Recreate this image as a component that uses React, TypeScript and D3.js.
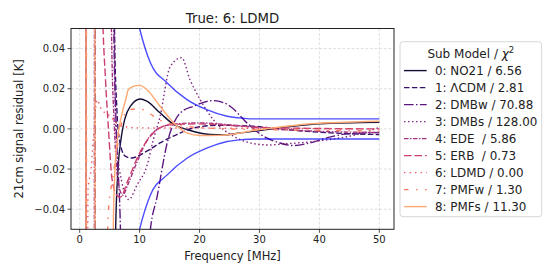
import React from "react";
import * as d3 from "d3";

// ---------- data ----------
const MODEL_NAMES = [
  "0: NO21 / 6.56",
  "1: \u039BCDM / 2.81",
  "2: DMBw / 70.88",
  "3: DMBs / 128.00",
  "4: EDE  / 5.86",
  "5: ERB  / 0.73",
  "6: LDMD / 0.00",
  "7: PMFw / 1.30",
  "8: PMFs / 11.30",
];

const NO21: [number, number][] = [
  [1.0, 1], [1.3, -1], [5.6, -0.3], [6.0, -0.05], [6.4, -0.02], [6.9, -0.005], [7.5, 0.0046],
  [8.5, 0.0115], [10.1, 0.0149], [11.2, 0.0138], [13.4, 0.008], [15.7, 0.0022],
  [17.9, -0.0003], [21.8, -0.0028], [24, -0.003], [26.8, -0.002], [33.4, 0.0005],
  [40.1, 0.0026], [50, 0.0033],
];
const LCDM: [number, number][] = [
  [1.0, -1], [1.3, 1], [5.0, 0.6], [5.8, 0.05], [6.2, 0.01], [6.6, -0.005], [7.6, -0.0136],
  [8.6, -0.0145], [11.2, -0.0111], [13.4, -0.007], [16.2, -0.0028], [19, 0.0005],
  [23, 0.0018], [28, 0.0015], [35, -0.0005], [42, -0.002], [50, -0.0028],
];
const DMBW: [number, number][] = [
  [1.0, 1], [1.2, -1], [2.5, -1], [2.7, 1], [5.4, 0.6], [5.7, 0.05], [6.1, 0.0],
  [6.8, -0.05], [7.6, -0.2], [10, -0.2], [11.2, -0.07], [11.8, -0.05], [12.9, -0.034],
  [14.6, -0.007], [16.8, 0.008], [19, 0.0113], [22.3, 0.0141], [25.1, 0.0113],
  [27.9, 0.003], [30.7, -0.0037], [33.4, -0.007], [35.7, -0.0083], [38.4, -0.007],
  [41.2, -0.0045], [44.6, -0.0025], [50, -0.0018],
];
const DMBS: [number, number][] = [
  [1.0, -1], [1.3, 1], [5.3, 0.3], [5.8, 0.05], [6.0, 0.0], [6.3, -0.012], [7.0, -0.026],
  [8.2, -0.0352], [9.6, -0.0277], [11.2, -0.0186], [12.3, -0.0053], [13.4, 0.006],
  [15.1, 0.031], [17.0, 0.0355], [18.4, 0.0246], [20.1, 0.0146], [22.3, 0.0046],
  [25.7, -0.0037], [29, -0.0073], [31.5, -0.008], [34, -0.0075], [41.7, -0.0053],
  [47.3, -0.002], [50, 0.0008],
];
const EDE: [number, number][] = [
  [1.0, 1], [1.3, -1], [2.3, -1], [2.6, 1], [4.8, 0.5], [5.3, 0.05], [5.8, 0.0],
  [6.5, -0.028], [7.2, -0.033], [8, -0.028], [9.5, -0.017], [11, -0.007], [13, 0.0],
  [16, 0.0025], [20, 0.003], [25, 0.002], [32, 0.0], [40, -0.0012], [50, -0.0018],
];
const ERB: [number, number][] = [
  [1.0, -1], [1.3, 1], [3.8, 0.06], [4.3, 0.025], [4.8, 0.0], [5.4, -0.025],
  [6.2, -0.033], [6.8, -0.034], [8, -0.026], [10, -0.012], [12.3, -0.002],
  [15, 0.002], [20, 0.0025], [30, 0.0008], [40, 0.0002], [50, 0.0],
];
const LDMD: [number, number][] = [
  [1.0, -1], [1.4, -0.03], [1.9, -0.02], [2.4, 0.0], [2.9, 0.0145], [3.5, 0.0105],
  [5.1, 0.0063], [6.8, 0.0016], [10, 0.0005], [20, 0.0004], [35, 0.0002], [50, 0.0],
];
const PMFW: [number, number][] = [
  [1.0, 1], [1.4, -1], [4.3, -0.1], [4.8, -0.04], [5.5, -0.025], [6.5, -0.005],
  [7.3, 0.006], [8.4, 0.0096], [10, 0.01], [11.5, 0.008], [13, 0.005], [17, 0.0015],
  [25, 0.0], [35, -0.0005], [50, -0.001],
];
const PMFS: [number, number][] = [
  [1.0, -1], [1.15, 1], [2.45, 1], [2.65, -1], [5.3, -0.3], [5.6, -0.05], [5.9, -0.019],
  [6.3, -0.0053], [6.8, 0.004], [7.3, 0.0104], [7.8, 0.016], [8.1, 0.0195], [9.2, 0.0214],
  [10, 0.0217], [11.2, 0.0196], [13.4, 0.0113], [15.7, 0.003], [17.9, -0.002],
  [20.1, -0.0033], [23.4, -0.0032], [30.1, -0.0003], [36.8, 0.0021], [50, 0.0038],
];
const MODEL_SERIES = [NO21, LCDM, DMBW, DMBS, EDE, ERB, LDMD, PMFW, PMFS];

const NOISE_UPPER: [number, number][] = [
  [1, 0.8], [5, 0.2], [8, 0.08], [10, 0.05], [11.8, 0.0329], [14.6, 0.0229],
  [17.9, 0.0146], [21.2, 0.0096], [24.6, 0.0063], [27.3, 0.0053], [29, 0.005], [50, 0.005],
];
const NOISE_LOWER: [number, number][] = [
  [1, -0.8], [5, -0.2], [8, -0.08], [10, -0.05], [11.8, -0.0329], [14.6, -0.0229],
  [17.9, -0.0146], [21.2, -0.0096], [24.6, -0.0063], [27.3, -0.0053], [29, -0.005], [50, -0.005],
];

const X_TICKS = [0, 10, 20, 30, 40, 50];
const Y_TICKS = [-0.04, -0.02, 0, 0.02, 0.04];
const TITLE = "True: 6: LDMD";
const X_LABEL = "Frequency [MHz]";
const Y_LABEL = "21cm signal residual [K]";

// ---------- styling ----------
const DASHES = [
  "none",
  "5.5,2.4",
  "9.6,2.4,1.5,2.4",
  "1.5,2.5",
  "4.5,1.5,1.5,1.5",
  "7.5,3",
  "1.4,4.1",
  "4.5,7.5,1.5,7.5",
  "none",
];

const W = 556;
const H = 278;
const PL = 71, PR = 394, PT = 28.5, PB = 229.3;
const FONT = "DejaVu Sans, sans-serif";

export default function App() {
  const x = d3.scaleLinear().domain([-1.45, 52.45]).range([PL, PR]);
  const y = d3.scaleLinear().domain([-0.05, 0.05]).range([PB, PT]);
  const line = d3
    .line<[number, number]>()
    .x((d) => x(d[0]))
    .y((d) => y(d[1]))
    .curve(d3.curveMonotoneX);
  const colors = MODEL_SERIES.map((_, i) => d3.interpolateMagma(0.1 + i * 0.09));

  const legX = 400, legY = 41.7, legW = 141.7, legH = 175;
  const entryY0 = 70.6, entryDy = 17.0;

  return (
    <div style={{ position: "absolute", left: 0, top: 0 }}>
      <svg width={W} height={H} style={{ display: "block", background: "#fff" }} fontFamily={FONT}>
        <defs>
          <clipPath id="plotclip">
            <rect x={PL} y={PT} width={PR - PL} height={PB - PT} />
          </clipPath>
        </defs>
        {/* grid */}
        <g stroke="#d6d6d6" strokeWidth={0.8} strokeDasharray="2.8,1.8">
          {X_TICKS.map((t) => (
            <line key={"gx" + t} x1={x(t)} x2={x(t)} y1={PT} y2={PB} />
          ))}
          {Y_TICKS.map((t) => (
            <line key={"gy" + t} x1={PL} x2={PR} y1={y(t)} y2={y(t)} />
          ))}
        </g>
        {/* curves */}
        <g clipPath="url(#plotclip)" fill="none">
          {MODEL_SERIES.map((s, i) => (
            <path
              key={"m" + i}
              d={line(s) || ""}
              stroke={colors[i]}
              strokeWidth={1.4}
              strokeDasharray={DASHES[i]}
            />
          ))}
          <path d={line(NOISE_UPPER) || ""} stroke="rgba(0,0,255,0.7)" strokeWidth={1.4} />
          <path d={line(NOISE_LOWER) || ""} stroke="rgba(0,0,255,0.7)" strokeWidth={1.4} />
        </g>
        {/* axes frame */}
        <rect x={PL} y={PT} width={PR - PL} height={PB - PT} fill="none" stroke="#222" strokeWidth={1} />
        {/* x ticks */}
        {X_TICKS.map((t) => (
          <g key={"xt" + t}>
            <line x1={x(t)} x2={x(t)} y1={PB} y2={PB + 3.5} stroke="#222" strokeWidth={0.8} />
            <text x={x(t)} y={PB + 14} fontSize={10} textAnchor="middle" fill="#222">
              {String(t)}
            </text>
          </g>
        ))}
        {/* y ticks */}
        {Y_TICKS.map((t) => (
          <g key={"yt" + t}>
            <line x1={PL - 3.5} x2={PL} y1={y(t)} y2={y(t)} stroke="#222" strokeWidth={0.8} />
            <text x={PL - 6} y={y(t)} dy="0.36em" fontSize={10} textAnchor="end" fill="#222">
              {d3.format(".2f")(t).replace("-", "\u2212")}
            </text>
          </g>
        ))}
        {/* labels */}
        <text x={(PL + PR) / 2} y={23} fontSize={13.3} textAnchor="middle" fill="#222">
          {TITLE}
        </text>
        <text x={(PL + PR) / 2} y={259.5} fontSize={11.5} textAnchor="middle" fill="#222">
          {X_LABEL}
        </text>
        <text
          transform={`translate(23,${(PT + PB) / 2}) rotate(-90)`}
          fontSize={11.5}
          textAnchor="middle"
          fill="#222"
        >
          {Y_LABEL}
        </text>
        {/* legend */}
        <rect x={legX} y={legY} width={legW} height={legH} rx={3} fill="#fff" fillOpacity={0.8} stroke="#cccccc" strokeWidth={0.8} />
        <text x={legX + legW / 2} y={57.5} fontSize={12} textAnchor="middle" fill="#222">
          Sub Model / <tspan fontStyle="italic">χ</tspan>
          <tspan fontSize={8.5} dy={-5}>2</tspan>
        </text>
        {MODEL_NAMES.map((name, i) => {
          const yy = entryY0 + i * entryDy;
          return (
            <g key={"lg" + i}>
              <line x1={404} x2={426.7} y1={yy} y2={yy} stroke={colors[i]} strokeWidth={1.4} strokeDasharray={DASHES[i]} />
              <text x={435} y={yy} dy="0.36em" fontSize={11.9} fill="#222" style={{ whiteSpace: "pre" }}>
                {name}
              </text>
            </g>
          );
        })}
      </svg>
    </div>
  );
}
